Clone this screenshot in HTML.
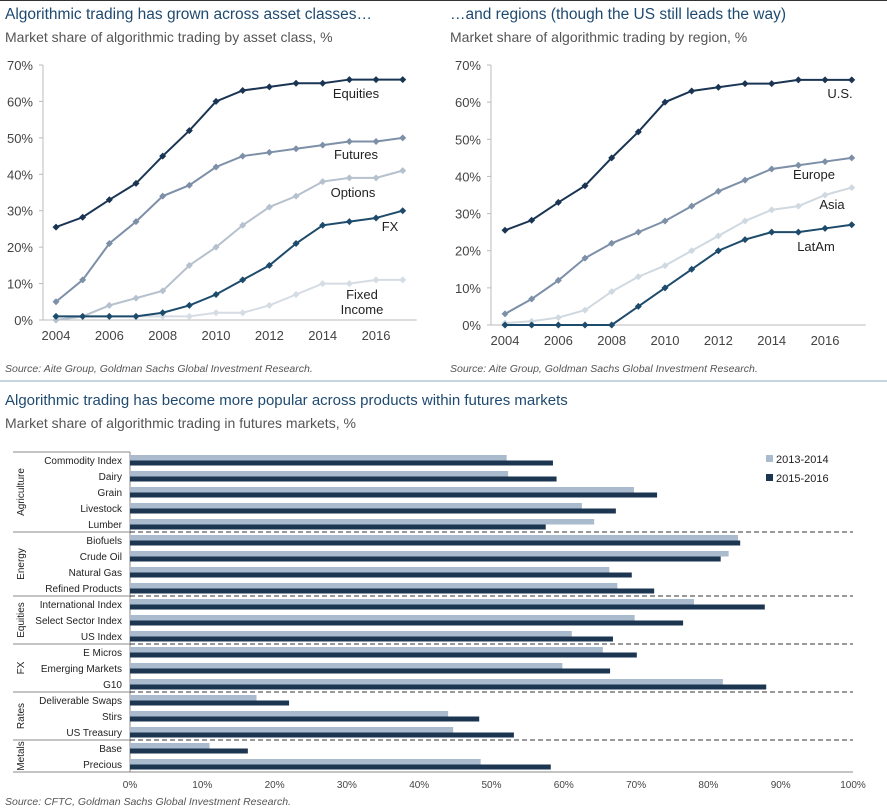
<!DOCTYPE html>
<html><head><meta charset="utf-8"><style>
body{margin:0;background:#fff;font-family:"Liberation Sans",sans-serif;}
svg{display:block}
</style></head><body>
<svg width="887" height="812" xmlns="http://www.w3.org/2000/svg" id="root" font-family="Liberation Sans, sans-serif">
<line x1="0" y1="0.5" x2="887" y2="0.5" stroke="#333"/>
<text x="5" y="19" font-size="15.5" fill="#1f4a70">Algorithmic trading has grown across asset classes…</text>
<text x="5" y="42" font-size="14" fill="#555">Market share of algorithmic trading  by asset class, %</text>
<text x="450" y="19" font-size="15.5" fill="#1f4a70">…and regions (though the US still leads the way)</text>
<text x="450" y="42" font-size="14" fill="#555">Market share of algorithmic trading by region, %</text>
<text x="5" y="372" font-size="10.5" font-style="italic" fill="#555">Source: Aite Group, Goldman Sachs Global Investment Research.</text>
<text x="450" y="372" font-size="10.5" font-style="italic" fill="#555">Source: Aite Group, Goldman Sachs Global Investment Research.</text>
<line x1="0" y1="381" x2="887" y2="381" stroke="#8aa8c4"/>
<text x="5" y="405" font-size="15" fill="#1f4a70">Algorithmic trading has become more popular across products within futures markets</text>
<text x="5" y="428" font-size="14" fill="#555">Market share of algorithmic trading in futures markets, %</text>
<text x="5" y="805" font-size="10.5" font-style="italic" fill="#555">Source: CFTC, Goldman Sachs Global Investment Research.</text>
<g id="lc"></g><g id="rc"></g><g id="bc"></g>
</svg>
<script>
const years=[2004,2005,2006,2007,2008,2009,2010,2011,2012,2013,2014,2015,2016,2017];
const equities=[25.5,28.2,33,37.5,45,52,60,63,64,65,65,66,66,66];
const futures=[5,11,21,27,34,37,42,45,46,47,48,49,49,50];
const options=[0,1,4,6,8,15,20,26,31,34,38,39,39,41];
const fx=[1,1,1,1,2,4,7,11,15,21,26,27,28,30];
const fixedIncome=[0,1,1,1,1,1,2,2,4,7,10,10,11,11];
const us=[25.5,28.2,33,37.5,45,52,60,63,64,65,65,66,66,66];
const europe=[3,7,12,18,22,25,28,32,36,39,42,43,44,45];
const asia=[0.5,1,2,4,9,13,16,20,24,28,31,32,35,37];
const latam=[0,0,0,0,0,5,10,15,20,23,25,25,26,27];
const yTicks=[0,10,20,30,40,50,60,70];
const xTicks=[2004,2006,2008,2010,2012,2014,2016];
const groups=["Agriculture","Energy","Equities","FX","Rates","Metals"];
const groupSizes=[5,4,3,3,3,2];
const products=["Commodity Index","Dairy","Grain","Livestock","Lumber","Biofuels","Crude Oil","Natural Gas","Refined Products","International Index","Select Sector Index","US Index","E Micros","Emerging Markets","G10","Deliverable Swaps","Stirs","US Treasury","Base","Precious"];
const share1314=[52.1,52.3,69.7,62.5,64.2,84.1,82.8,66.3,67.4,78,69.8,61.1,65.4,59.8,82,17.5,44,44.7,11,48.5];
const share1516=[58.5,59,72.9,67.2,57.5,84.4,81.7,69.4,72.5,87.8,76.5,66.8,70.1,66.4,88,22,48.3,53.1,16.3,58.2];
const pctTicks=[0,10,20,30,40,50,60,70,80,90,100];

const NS="http://www.w3.org/2000/svg";
function mk(p,t,a){const e=document.createElementNS(NS,t);for(const k in a)e.setAttribute(k,a[k]);p.appendChild(e);return e;}

function lineChart(g,ax,y0,y70,x2004,seriesList,labels,prefix){
  const X=yr=>x2004+(yr-2004)*26.67, Y=v=>y0-(y0-y70)*v/70;
  let e=mk(g,'line',{x1:ax,y1:Y(70),x2:ax,y2:y0,stroke:'#bbb'});
  
  
  e=mk(g,'line',{x1:ax,y1:y0,x2:X(2017)+14,y2:y0,stroke:'#bbb'});
  
  
  yTicks.forEach(v=>{
    const t=mk(g,'text',{x:ax-10,y:Y(v)+5,'font-size':13,fill:'#444','text-anchor':'end'});t.textContent=v+'%';
    
    
    const k=mk(g,'line',{x1:ax-4,y1:Y(v),x2:ax,y2:Y(v),stroke:'#bbb'});
    
    
  });
  xTicks.forEach(v=>{
    const t=mk(g,'text',{x:X(v),y:y0+20,'font-size':13,fill:'#444','text-anchor':'middle'});t.textContent=v;
    
    
  });
  seriesList.forEach(s=>{
    const p=mk(g,'polyline',{points:years.map((yr,i)=>X(yr)+','+Y(s.d[i])).join(' '),fill:'none',stroke:s.c,'stroke-width':2});
    
    
    years.forEach((yr,i)=>{
      const x=X(yr),y=Y(s.d[i]);
      const m=mk(g,'path',{d:`M${x-3.5},${y}L${x},${y-3.5}L${x+3.5},${y}L${x},${y+3.5}Z`,fill:s.c});
      
      
    });
  });
  labels.forEach(l=>{
    const t=mk(g,'text',{x:l[1],y:l[2],'font-size':13,fill:'#222','text-anchor':'middle'});t.textContent=l[0];
    
    
  });
}
lineChart(document.getElementById('lc'),43,320,65,56,[
 {n:'fixed-income',d:fixedIncome,c:'#d5dce3'},{n:'options',d:options,c:'#b5c1cd'},
 {n:'futures',d:futures,c:'#7d90a8'},{n:'fx',d:fx,c:'#1d4b6c'},{n:'equities',d:equities,c:'#1a3553'}],
 [['Equities',356,98],['Futures',356,159],['Options',353,197],['FX',390,231],['Fixed',362,299],['Income',362,314]],'left');
lineChart(document.getElementById('rc'),491,325,65,505,[
 {n:'asia',d:asia,c:'#d0d8e0'},{n:'europe',d:europe,c:'#7d90a8'},{n:'latam',d:latam,c:'#1d4b6c'},{n:'us',d:us,c:'#1a3553'}],
 [['U.S.',840,98],['Europe',814,179],['Asia',832,209],['LatAm',816,251]],'right');

// bar chart
(function(){
  const g=document.getElementById('bc');
  const x0=130,x100=853,X=v=>x0+(x100-x0)*v/100;
  const rowTop=452,rowH=(772-452)/products.length;
  const Yc=i=>rowTop+rowH*(i+0.5);
  let e=mk(g,'line',{x1:x0,y1:452,x2:x0,y2:772,stroke:'#888'});
  
  
  e=mk(g,'line',{x1:13,y1:452,x2:x0,y2:452,stroke:'#888'});
  
  
  e=mk(g,'line',{x1:13,y1:772,x2:x100,y2:772,stroke:'#888'});
  
  
  pctTicks.forEach(v=>{
    const t=mk(g,'text',{x:X(v),y:788,'font-size':10,fill:'#444','text-anchor':'middle'});t.textContent=v+'%';
    
    
  });
  products.forEach((p,i)=>{
    const c=Yc(i);
    const t=mk(g,'text',{x:122,y:c+4,'font-size':10,fill:'#222','text-anchor':'end'});t.textContent=p;
    
    
    const a=mk(g,'rect',{x:x0,y:c-5,width:X(share1314[i])-x0,height:5.5,fill:'#a9bbcc'});
    
    
    const b=mk(g,'rect',{x:x0,y:c+0.5,width:X(share1516[i])-x0,height:5,fill:'#1c3551'});
    
    
  });
  let start=0;
  groups.forEach((gr,k)=>{
    const top=rowTop+rowH*start, bot=rowTop+rowH*(start+groupSizes[k]);
    const mid=(top+bot)/2;
    const t=mk(g,'text',{x:0,y:0,'font-size':10,fill:'#222','text-anchor':'middle',transform:`translate(24,${mid}) rotate(-90)`});t.textContent=gr;
    
    
    start+=groupSizes[k];
    if(k<groups.length-1){
      const y=rowTop+rowH*start;
      const s=mk(g,'line',{x1:13,y1:y,x2:x0,y2:y,stroke:'#888'});
      
      
      const d=mk(g,'line',{x1:x0,y1:y,x2:x100,y2:y,stroke:'#333','stroke-dasharray':'5,3'});
      
      
    }
  });
  [['2013-2014','#a9bbcc',463],['2015-2016','#1c3551',482]].forEach(l=>{
    const r=mk(g,'rect',{x:766,y:l[2]-8,width:7,height:7,fill:l[1]});
    
    
    const t=mk(g,'text',{x:776,y:l[2],'font-size':11,fill:'#222'});t.textContent=l[0];
    
    
  });
})();
</script>
</body></html>
